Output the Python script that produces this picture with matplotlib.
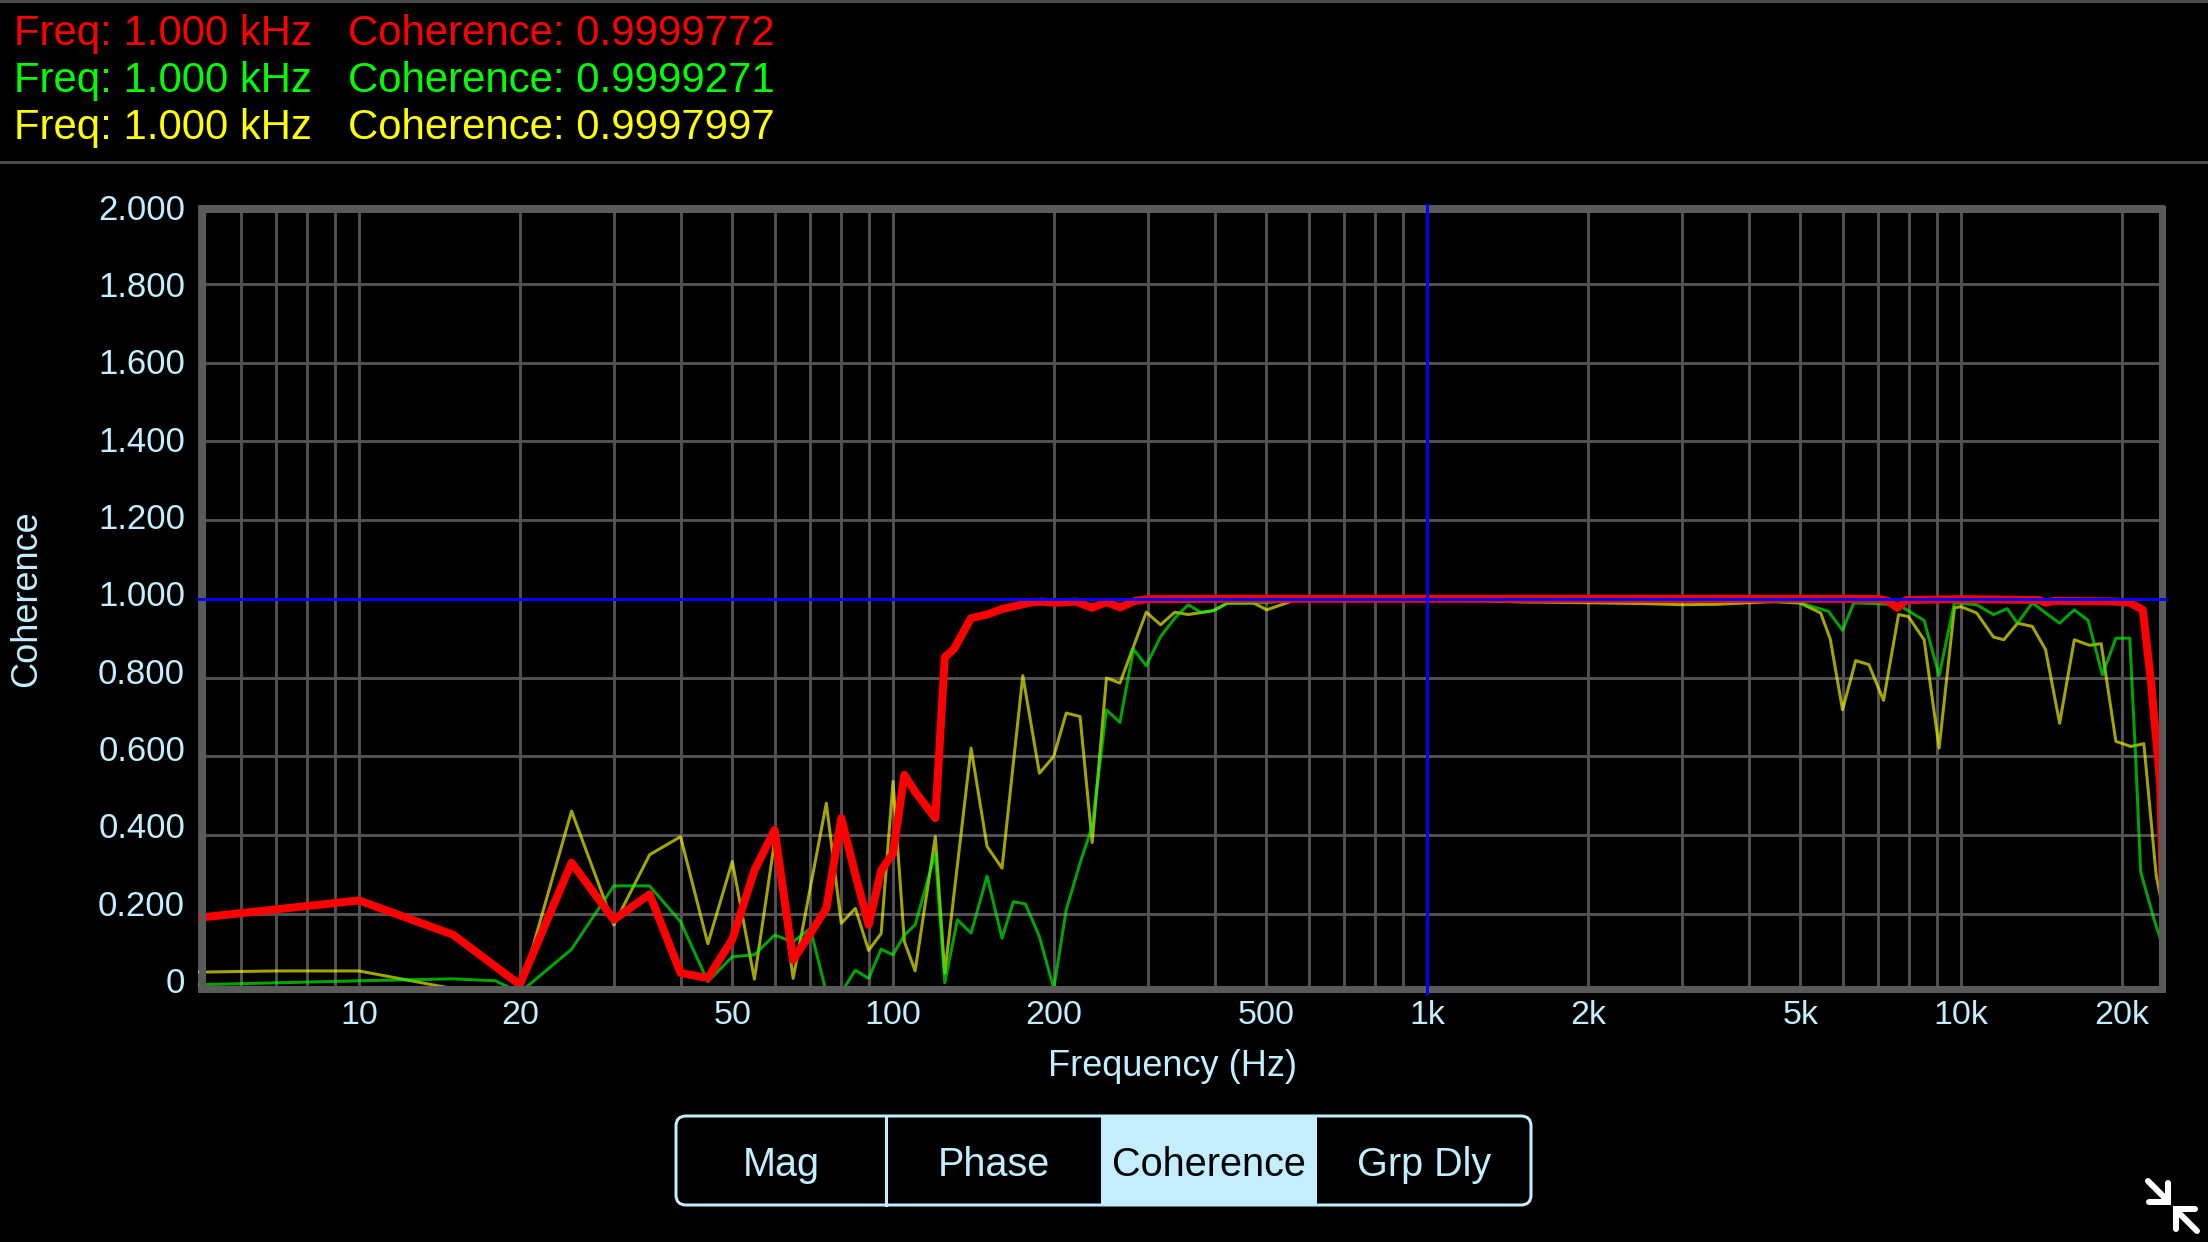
import matplotlib
matplotlib.use("Agg")
import matplotlib.pyplot as plt
from matplotlib.patches import Rectangle, FancyBboxPatch
from matplotlib.lines import Line2D
from matplotlib.ticker import FixedLocator, NullFormatter
from matplotlib.transforms import Affine2D

plt.rcParams['font.family'] = ['Liberation Sans', 'DejaVu Sans']

# ---------------- data ----------------
red_freq = [5, 10, 15, 20, 25, 30, 35, 40, 45, 50, 55, 60, 65, 70, 75, 80, 85, 90, 95,
            100, 105, 110, 120, 125, 130, 140, 150, 160, 170, 180, 190, 200, 210, 220,
            236, 251, 266, 284, 300, 400, 1000, 2000, 5000, 7000, 7300, 7600, 7900,
            10000, 14000, 14400, 15000, 19600, 20700, 21900, 22700, 23600, 23900]
red_coh = [0.19, 0.234, 0.147, 0.02, 0.33, 0.185, 0.25, 0.05, 0.037, 0.135, 0.31, 0.413,
           0.083, 0.15, 0.214, 0.443, 0.30, 0.172, 0.31,
           0.354, 0.553, 0.51, 0.443, 0.852, 0.872, 0.951, 0.96, 0.974, 0.982, 0.99, 0.993,
           0.99, 0.991, 0.993, 0.977, 0.992, 0.978, 0.995, 0.999, 0.9999, 0.99998, 0.9999,
           0.9999, 0.9995, 0.995, 0.977, 0.997, 0.999, 0.997, 0.99, 0.995, 0.993, 0.99,
           0.972, 0.786, 0.532, 0.235]

yellow_freq = [5, 7, 10, 15, 20, 25, 30, 35, 40, 45, 50, 55, 60, 65, 75, 80, 85, 90, 95,
               100, 105, 110, 120, 125, 140, 150, 160, 175, 188, 200, 211, 224, 236, 251,
               266, 298, 317, 337, 357, 398, 423, 474, 501, 569, 700, 1000, 1500, 2000,
               2500, 3000, 3500, 4000, 4500, 5000, 5460, 5690, 6000, 6350, 6720, 7160,
               7640, 7970, 8530, 9100, 9720, 10000, 10700, 11500, 12030, 12760, 13600,
               14400, 15300, 16300, 17400, 18300, 19500, 20800, 22000, 23200, 24000]
yellow_coh = [0.052, 0.055, 0.055, 0.01, 0.0, 0.461, 0.172, 0.35, 0.396, 0.124, 0.333,
              0.034, 0.384, 0.036, 0.481, 0.176, 0.214, 0.107, 0.15,
              0.536, 0.13, 0.055, 0.396, 0.049, 0.621, 0.371, 0.316, 0.805, 0.557, 0.6,
              0.71, 0.701, 0.381, 0.799, 0.786, 0.966, 0.934, 0.966, 0.96, 0.97, 0.989,
              0.989, 0.972, 0.998, 0.995, 0.998, 0.992, 0.99, 0.988, 0.985, 0.986, 0.99,
              0.993, 0.989, 0.964, 0.898, 0.718, 0.843, 0.833, 0.742, 0.96, 0.955, 0.896,
              0.621, 0.977, 0.98, 0.964, 0.903, 0.896, 0.938, 0.93, 0.871, 0.684, 0.896,
              0.882, 0.886, 0.638, 0.625, 0.632, 0.298, 0.197]

green_freq = [5, 10, 15, 18, 20, 25, 30, 35, 40, 45, 50, 55, 60, 65, 70, 75, 80, 85, 90,
              95, 100, 105, 110, 120, 125, 132, 140, 150, 160, 168, 177, 188, 200, 211,
              224, 236, 251, 266, 282, 298, 317, 337, 357, 378, 398, 423, 474, 501, 569,
              700, 1000, 2000, 3000, 4000, 5000, 5650, 6000, 6300, 7640, 8530, 9100,
              9720, 10700, 11500, 12200, 12760, 13600, 14400, 15300, 16300, 17300,
              18400, 19500, 20700, 21200, 21700, 22000, 23000, 24000]
green_coh = [0.02, 0.03, 0.035, 0.03, 0.0, 0.11, 0.271, 0.271, 0.18, 0.028, 0.091, 0.096,
             0.146, 0.129, 0.163, 0.0, 0.0, 0.057, 0.036,
             0.11, 0.096, 0.146, 0.172, 0.354, 0.025, 0.185, 0.151, 0.296, 0.138, 0.231,
             0.225, 0.142, 0.01, 0.21, 0.329, 0.422, 0.718, 0.686, 0.872, 0.83, 0.904,
             0.951, 0.985, 0.965, 0.97, 0.989, 0.99, 0.99, 0.998,
             0.997, 0.9999, 0.998, 0.995, 0.995, 0.99, 0.968, 0.92, 0.99, 0.985, 0.945,
             0.805, 0.99, 0.985, 0.96, 0.975, 0.938, 0.99, 0.964, 0.938, 0.972, 0.945,
             0.807, 0.90, 0.90, 0.617, 0.307, 0.278, 0.185, 0.108]

x_tick_values = [10, 20, 50, 100, 200, 500, 1000, 2000, 5000, 10000, 20000]
x_tick_labels = ["10", "20", "50", "100", "200", "500", "1k", "2k", "5k", "10k", "20k"]
y_tick_values = [0.0, 0.2, 0.4, 0.6, 0.8, 1.0, 1.2, 1.4, 1.6, 1.8, 2.0]
y_tick_labels = ["0", "0.200", "0.400", "0.600", "0.800", "1.000", "1.200", "1.400",
                 "1.600", "1.800", "2.000"]

header_freq = ["Freq: 1.000 kHz", "Freq: 1.000 kHz", "Freq: 1.000 kHz"]
header_coh = ["Coherence: 0.9999772", "Coherence: 0.9999271", "Coherence: 0.9997997"]
header_colors = ["#FF0000", "#00FF00", "#FFFF00"]

buttons = ["Mag", "Phase", "Coherence", "Grp Dly"]
active_button = "Coherence"

cursor_freq = 1000
ref_level = 1.0
x_range = (5, 24100)
y_range = (0, 2)

# ---------------- layout ----------------
W, H, DPI = 2208, 1242, 100
PT = 72.0 / DPI  # points per pixel
CYAN = "#C2EEFF"
GRID = "#525252"
FRAME = "#5a5a5a"

fig = plt.figure(figsize=(W / DPI, H / DPI), dpi=DPI, facecolor="black")
# pixel coordinates with origin top-left
px = Affine2D().scale(1.0 / DPI, -1.0 / DPI).translate(0, H / DPI) + fig.dpi_scale_trans

AX_L, AX_R, AX_T, AX_B = 198.3, 2165.0, 205.0, 992.6
ax = fig.add_axes([AX_L / W, 1 - AX_B / H, (AX_R - AX_L) / W, (AX_B - AX_T) / H])
ax.set_facecolor("black")
ax.set_xscale("log")
ax.set_xlim(*x_range)
ax.set_ylim(*y_range)
for s in ax.spines.values():
    s.set_visible(False)

ax.set_xticks(x_tick_values)
ax.set_xticklabels(x_tick_labels)
minor = [k * 10 ** e for e in range(0, 5) for k in range(1, 10)
         if x_range[0] <= k * 10 ** e <= x_range[1] and k * 10 ** e not in x_tick_values]
ax.xaxis.set_minor_locator(FixedLocator(minor))
ax.xaxis.set_minor_formatter(NullFormatter())
ax.set_yticks(y_tick_values)
ax.set_yticklabels([])
ax.tick_params(which="both", length=0)
ax.tick_params(axis="x", colors=CYAN, labelsize=24.5, pad=5.5)
ax.set_axisbelow(True)
ax.grid(which="both", color=GRID, lw=2.9 * PT)

ax.plot(yellow_freq, yellow_coh, color="#FFFF00", alpha=0.65, lw=3 * PT, zorder=2)
ax.plot(green_freq, green_coh, color="#00FF00", alpha=0.65, lw=3 * PT, zorder=3)
ax.plot(red_freq, red_coh, color="#FF0000", lw=8 * PT, zorder=4, solid_joinstyle="round")

# frame drawn just inside the plotting area
fw = 7.0
ax.add_patch(Rectangle((AX_L + fw / 2, AX_T + fw / 2), (AX_R - AX_L) - fw, (AX_B - AX_T) - fw,
                       transform=px, fill=False, edgecolor=FRAME, lw=fw * PT,
                       zorder=5, clip_on=False))

ax.axhline(ref_level, color="#0000FF", lw=3 * PT, zorder=6, clip_on=False)
ax.axvline(cursor_freq, color="#0000FF", lw=3 * PT, zorder=6, clip_on=False)

# y tick labels
for v, lab in zip(y_tick_values, y_tick_labels):
    yc = 207 + (y_range[1] - v) * 386.75
    fig.text(185, yc + 12.6, lab, transform=px, ha="right", va="baseline",
             color=CYAN, fontsize=25)

fig.text(27, 599, "Coherence", transform=px, rotation=90, ha="center", va="center",
         color=CYAN, fontsize=26)
fig.text(1173, 1066, "Frequency (Hz)", transform=px, ha="center", va="center",
         color=CYAN, fontsize=26)

# header
for yy in (1.3, 161.5):
    fig.add_artist(Line2D([0, W], [yy, yy], transform=px, color="#4a4a4a", lw=3 * PT))
baselines = [45, 92, 139]
for i in range(3):
    fig.text(14, baselines[i], header_freq[i], transform=px, color=header_colors[i],
             fontsize=30.2, va="baseline", ha="left")
    fig.text(348, baselines[i], header_coh[i], transform=px, color=header_colors[i],
             fontsize=30.2, va="baseline", ha="left")

# segmented control
seg_edges = [676, 886, 1101, 1317, 1531]
top, bot = 1116, 1205
for i, name in enumerate(buttons):
    x0, x1 = seg_edges[i], seg_edges[i + 1]
    active = name == active_button
    if active:
        fig.add_artist(Rectangle((x0, top), x1 - x0, bot - top, transform=px,
                                 facecolor=CYAN, edgecolor="none"))
    fig.text((x0 + x1) / 2, 1176, name, transform=px, ha="center", va="baseline",
             color="black" if active else CYAN, fontsize=28.5)
fig.add_artist(FancyBboxPatch((seg_edges[0], top), seg_edges[-1] - seg_edges[0], bot - top,
                              boxstyle="round,pad=0,rounding_size=10", transform=px,
                              fill=False, edgecolor=CYAN, lw=3 * PT))
fig.add_artist(Line2D([seg_edges[1], seg_edges[1]], [top, bot], transform=px,
                      color=CYAN, lw=3 * PT))

# collapse icon (bottom right)
icon_kw = dict(transform=px, color="white", lw=6 * PT, solid_capstyle="round",
               solid_joinstyle="miter")
fig.add_artist(Line2D([2148, 2168], [1181, 1201], **icon_kw))
fig.add_artist(Line2D([2168, 2168, 2149], [1183, 1202, 1202], **icon_kw))
fig.add_artist(Line2D([2176, 2197], [1210, 1231], **icon_kw))
fig.add_artist(Line2D([2176, 2176, 2195], [1229, 1209, 1209], **icon_kw))

fig.savefig("out.png", dpi=DPI, facecolor="black")
